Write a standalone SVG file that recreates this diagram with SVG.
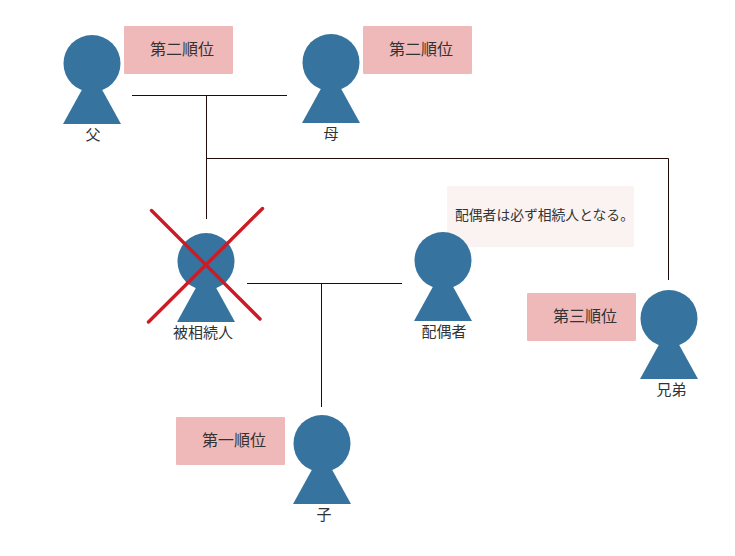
<svg xmlns="http://www.w3.org/2000/svg" width="735" height="556" viewBox="0 0 735 556">
<style>
text{font-family:"Noto Sans CJK JP","Noto Sans CJK SC",sans-serif;fill:#333}
.l{font-size:15px;text-anchor:middle}
.b{font-size:16px}
.p{fill:#36749f}
.tag{fill:#efb9b9}
.c{fill:none;stroke:#220a0a;stroke-width:1}
.x{stroke:#cb1b24;stroke-width:3.400;stroke-linecap:round}
</style>
<defs>
<g id="person"><circle class="p" cx="0" cy="0" r="28.5"/><polygon class="p" points="0,8 29,60.5 -29,60.5"/></g>
</defs>
<g id="connectors">
<path class="c" d="M132 95.500H287M206.500 95.500V219M206.500 158.500H668.500V280M247 283.500H402M321.500 283.500V407"/>
</g>
<g id="note"><rect x="447" y="186" width="187" height="61" rx="1" fill="#fbf3f2"/><text x="455" y="220" font-size="13.800">配偶者は必ず相続人となる。</text></g>
<g id="father"><use href="#person" x="92" y="63.500"/><text class="l" x="93" y="140">父</text></g>
<g id="father-tag"><rect class="tag" x="124" y="26" width="109" height="48" rx="1"/><text class="b" x="150" y="55">第二順位</text></g>
<g id="mother"><use href="#person" x="331" y="62.500"/><text class="l" x="331" y="138.500">母</text></g>
<g id="mother-tag"><rect class="tag" x="363" y="26" width="109" height="48" rx="1"/><text class="b" x="389" y="55">第二順位</text></g>
<g id="decedent"><use href="#person" x="206" y="261.500"/><text class="l" x="203" y="338">被相続人</text>
<line class="x" x1="151.500" y1="210.500" x2="260" y2="319"/><line class="x" x1="148.500" y1="322" x2="262.500" y2="208.500"/></g>
<g id="spouse"><use href="#person" x="443" y="260.500"/><text class="l" x="444" y="337">配偶者</text></g>
<g id="sibling"><use href="#person" x="669" y="318.500"/><text class="l" x="671.500" y="395">兄弟</text></g>
<g id="sibling-tag"><rect class="tag" x="527" y="293" width="109" height="48" rx="1"/><text class="b" x="553" y="322">第三順位</text></g>
<g id="child"><use href="#person" x="322" y="443.500"/><text class="l" x="324" y="520">子</text></g>
<g id="child-tag"><rect class="tag" x="176" y="417" width="109" height="48" rx="1"/><text class="b" x="202" y="446">第一順位</text></g>
</svg>
